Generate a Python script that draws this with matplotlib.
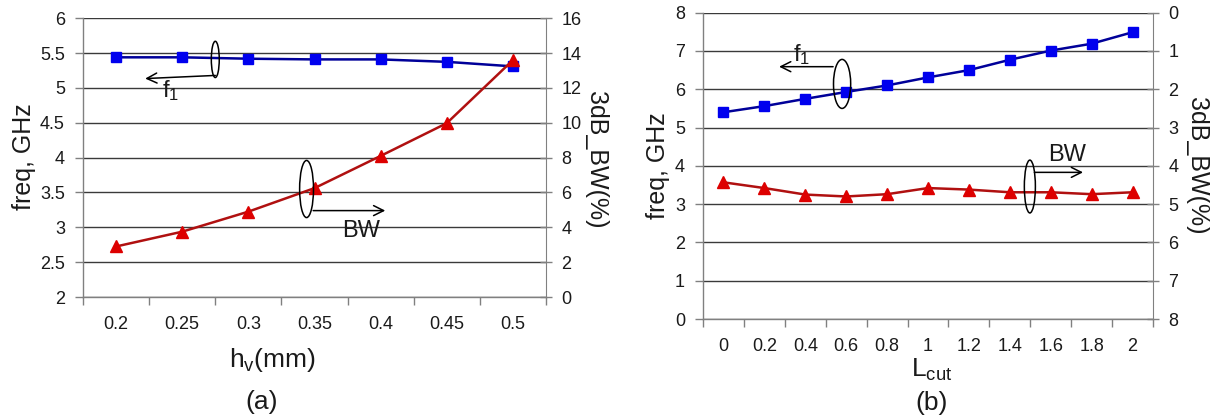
import matplotlib
matplotlib.use("Agg")
import matplotlib.pyplot as plt
from matplotlib.patches import Ellipse
import numpy as np

plt.rcParams['font.family'] = ['Liberation Sans', 'DejaVu Sans']
plt.rcParams['mathtext.default'] = 'regular'

# ---- data panel (a) ----
hv_labels = ['0.2', '0.25', '0.3', '0.35', '0.4', '0.45', '0.5']
a_f1 = [5.44, 5.44, 5.42, 5.41, 5.41, 5.375, 5.31]
a_bw = [2.9, 3.75, 4.9, 6.25, 8.1, 9.98, 13.6]
a_left_ticks = [2, 2.5, 3, 3.5, 4, 4.5, 5, 5.5, 6]
a_right_ticks = [0, 2, 4, 6, 8, 10, 12, 14, 16]

# ---- data panel (b) ----
lcut_labels = ['0', '0.2', '0.4', '0.6', '0.8', '1', '1.2', '1.4', '1.6', '1.8', '2']
b_f1 = [5.40, 5.56, 5.75, 5.93, 6.10, 6.31, 6.50, 6.77, 7.01, 7.19, 7.49]
b_bw = [4.43, 4.58, 4.75, 4.80, 4.74, 4.58, 4.62, 4.69, 4.69, 4.74, 4.69]
b_left_ticks = [0, 1, 2, 3, 4, 5, 6, 7, 8]
b_right_ticks = [0, 1, 2, 3, 4, 5, 6, 7, 8]

W, H = 1210, 419
fig = plt.figure(figsize=(W / 100, H / 100), dpi=100)

SPINE = '#808080'
GRID = '#3a3a3a'
TXT = '#1a1a1a'
TS = 13


def rect(x0, y0, x1, y1):
    return [x0 / W, 1 - y1 / H, (x1 - x0) / W, (y1 - y0) / H]


def fmt(v):
    return ('%g' % v)


def panel(r, labels, f1, bw, lticks, rticks, invert_r):
    ax = fig.add_axes(r)
    n = len(labels)
    x = np.arange(n)
    ax.set_xlim(-0.5, n - 0.5)
    ax.set_ylim(lticks[0], lticks[-1])
    ax.set_yticks(lticks)
    ax.set_yticklabels([fmt(v) for v in lticks])
    ax.set_xticks(x)
    ax.set_xticklabels(labels)
    ax.set_xticks(np.arange(n + 1) - 0.5, minor=True)
    ax.tick_params(axis='x', which='major', length=0, pad=14, labelsize=TS, labelcolor=TXT)
    ax.tick_params(axis='x', which='minor', length=6, width=1, color=SPINE, direction='out')
    ax.tick_params(axis='y', length=6, width=1, color=SPINE, direction='out', pad=7,
                   labelsize=TS, labelcolor=TXT)
    ax.yaxis.grid(True, color=GRID, lw=1)
    ax.set_axisbelow(True)
    for s in ['top', 'right']:
        ax.spines[s].set_visible(False)
    for s in ['left', 'bottom']:
        ax.spines[s].set_color(SPINE)
        ax.spines[s].set_linewidth(1)

    ax2 = ax.twinx()
    if invert_r:
        ax2.set_ylim(rticks[-1], rticks[0])
    else:
        ax2.set_ylim(rticks[0], rticks[-1])
    ax2.set_yticks(rticks)
    ax2.set_yticklabels([fmt(v) for v in rticks])
    ax2.tick_params(axis='y', length=8, width=1, color=SPINE, direction='inout', pad=7,
                    labelsize=TS, labelcolor=TXT)
    for s in ['top', 'left', 'bottom']:
        ax2.spines[s].set_visible(False)
    ax2.spines['right'].set_color(SPINE)

    ax.plot(x, f1, color='#000099', lw=1.8, marker='s', ms=7,
            mfc='#0000ee', mec='#0000ee', zorder=3)
    ax2.plot(x, bw, color='#b01010', lw=1.8, marker='^', ms=8,
             mfc='#dd0000', mec='#dd0000', zorder=3)
    return ax, ax2


def note(ax, ax2, ell_c, ell_w, ell_h, a_from, a_to, txt, txt_xy):
    e = Ellipse(ell_c, ell_w, ell_h, transform=ax.transData, fill=False,
                ec='black', lw=1.1, zorder=5)
    ax2.add_patch(e)
    ax2.annotate('', xy=a_to, xytext=a_from, xycoords=ax.transData,
                 textcoords=ax.transData,
                 arrowprops=dict(arrowstyle='->', color='black', lw=1.1,
                                 mutation_scale=18, shrinkA=0, shrinkB=0),
                 zorder=5)
    ax2.text(txt_xy[0], txt_xy[1], txt, transform=ax.transData, fontsize=17,
             color=TXT, ha='center', va='center', zorder=5)


# panel (a)
axa, axa2 = panel(rect(83, 18.3, 546, 297), hv_labels, a_f1, a_bw,
                  a_left_ticks, a_right_ticks, False)
note(axa, axa2, (1.5, 5.41), 0.12, 0.52, (1.5, 5.18), (0.44, 5.135),
     'f$_1$', (0.82, 4.97))
note(axa, axa2, (2.88, 3.55), 0.21, 0.82, (2.98, 3.24), (4.07, 3.24),
     'BW', (3.7, 2.95))

# panel (b)
axb, axb2 = panel(rect(703, 12.7, 1153, 319), lcut_labels, b_f1, b_bw,
                  b_left_ticks, b_right_ticks, True)
note(axb, axb2, (2.9, 6.14), 0.42, 1.28, (2.68, 6.59), (1.36, 6.59),
     'f$_1$', (1.91, 6.9))
note(axb, axb2, (7.49, 3.46), 0.27, 1.38, (7.6, 3.83), (8.79, 3.83),
     'BW', (8.39, 4.28))


def ftext(px, py, s, **kw):
    fig.text(px / W, 1 - py / H, s, ha='center', va='center', color=TXT, **kw)


ftext(24, 157, 'freq, GHz', fontsize=18, rotation=90)
ftext(596, 160, '3dB_BW(%)', fontsize=18, rotation=270)
ftext(658, 166, 'freq, GHz', fontsize=18, rotation=90)
ftext(1197, 166, '3dB_BW(%)', fontsize=18, rotation=270)
ftext(272, 360, 'h$_v$(mm)', fontsize=19)
ftext(262, 402, '(a)', fontsize=19)
ftext(932, 370, 'L$_{cut}$', fontsize=19)
ftext(932, 403, '(b)', fontsize=19)

fig.savefig('out.png', dpi=100)
